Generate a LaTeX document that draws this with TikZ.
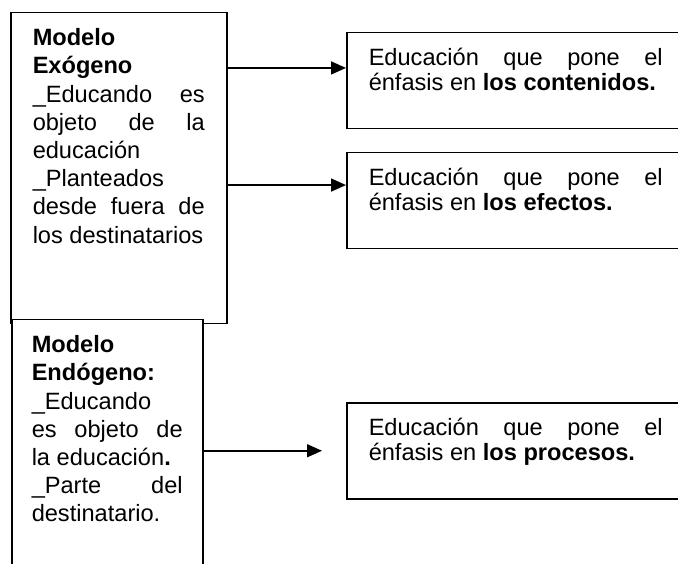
\documentclass[tikz,border=0pt]{standalone}
\usepackage{fontspec}
\setmainfont{Liberation Sans}
\usetikzlibrary{arrows.meta}
\begin{document}
\begin{tikzpicture}[x=1pt, y=-1pt]
  \tikzset{
    modelo/.style={rectangle, draw=black, fill=white, line width=1.5pt, anchor=north west, align=justify, inner ysep=16pt, text height=17pt, font=\fontsize{23.6pt}{28.2pt}\selectfont},
    enfasis/.style={rectangle, draw=black, fill=white, line width=1.5pt, anchor=north west, align=justify, text width=294pt, inner xsep=22pt, inner ysep=16pt, text height=17pt, text depth=47pt, font=\fontsize{23.6pt}{24.7pt}\selectfont},
    flecha/.style={line width=1.5pt, -{Triangle[length=15pt, width=13pt]}}
  }
  \useasboundingbox (0,0) rectangle (678,564);
  \clip (0,0) rectangle (678,564);

  \node at (10,12) [modelo, text width=172pt, inner xsep=22pt, text depth=262pt] (exo) {\textbf{Modelo}\par \textbf{Exógeno}\par \_Educando es\linebreak objeto de la\linebreak educación\par \_Planteados\par desde fuera de\linebreak los destinatarios};
  \node at (11,319) [modelo, text width=151pt, inner xsep=20pt, text depth=232pt] (endo) {\textbf{Modelo}\par \textbf{Endógeno:}\par \_Educando\par es objeto de\linebreak la educación\textbf{.}\par \_Parte del\linebreak destinatario.};

  \node at (346,32) [enfasis] (cont) {Educación que pone el\linebreak énfasis en \textbf{los contenidos.}};
  \node at (346,152) [enfasis] (efec) {Educación que pone el\linebreak énfasis en \textbf{los efectos.}};
  \node at (346,402) [enfasis] (proc) {Educación que pone el\linebreak énfasis en \textbf{los procesos.}};

  \coordinate (a1) at ([yshift=12.8pt]cont.west);
  \coordinate (a2) at ([yshift=15.7pt]efec.west);
  \draw[flecha] (a1 -| exo.east) -- (a1);
  \draw[flecha] (a2 -| exo.east) -- (a2);
  \draw[flecha, shorten >=24pt] (proc.west -| endo.east) -- (proc.west);
\end{tikzpicture}
\end{document}
